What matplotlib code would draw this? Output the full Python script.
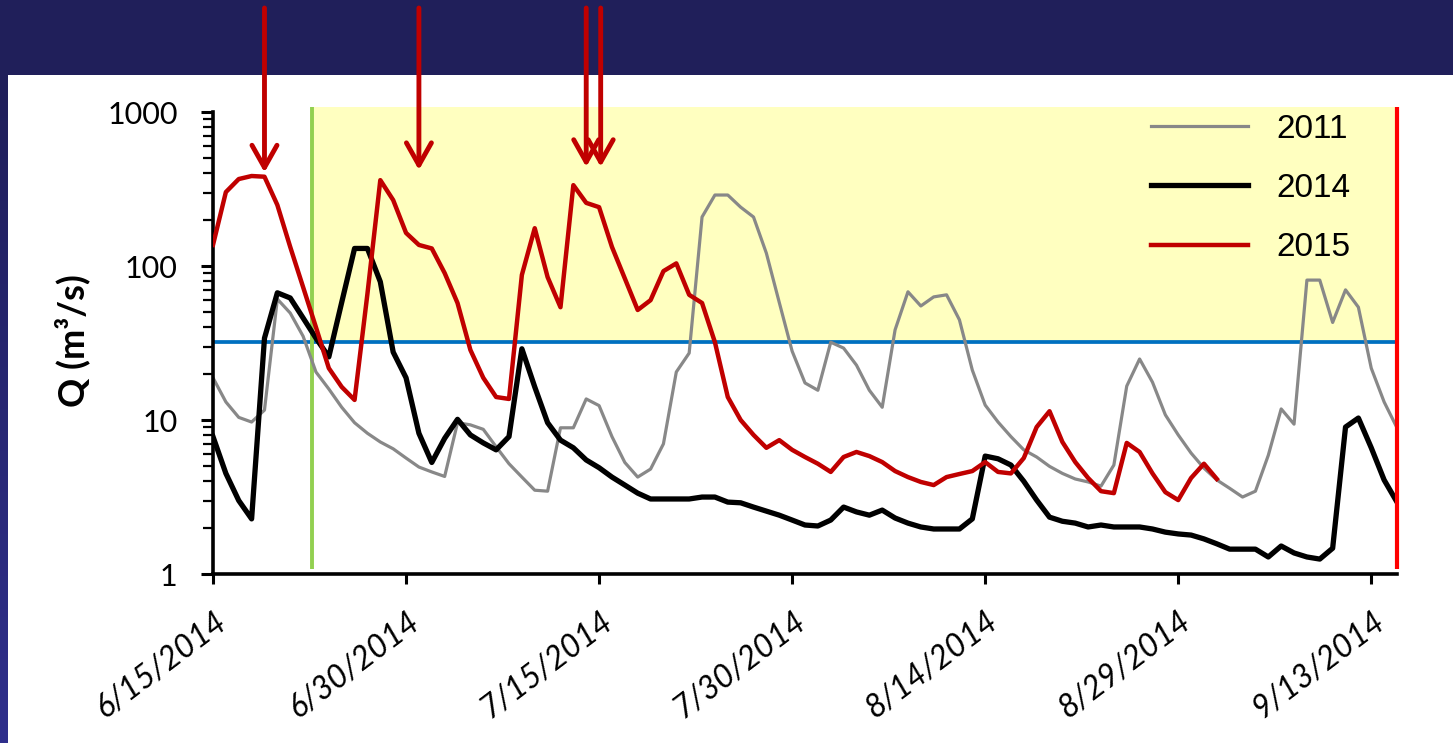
#!/usr/bin/env python3
"""
Daily discharge Q (m3/s), 15 Jun - 15 Sep, for the 2011, 2014 and 2015 seasons
on a log axis, with the high-flow band above the threshold shaded.
"""

import datetime as dt

import matplotlib
matplotlib.use('Agg')
import matplotlib.dates as mdates
import matplotlib.pyplot as plt
import numpy as np
from matplotlib.patches import Rectangle
from matplotlib.ticker import FixedLocator, FuncFormatter, LogLocator, NullFormatter

# ---------------------------------------------------------------- data
START = dt.datetime(2014, 6, 15)
END = dt.datetime(2014, 9, 15)

# daily discharge, one value per day from 6/15
q_2011 = [18.8, 13.1, 10.4, 9.7, 11.6, 61, 49.5, 35, 20.5, 15.9,
          12.1, 9.6, 8.2, 7.2, 6.5, 5.66, 4.95, 4.6, 4.3, 9.6,
          9.3, 8.7, 6.7, 5.2, 4.26, 3.5, 3.45, 8.9, 8.9, 13.7,
          12.4, 7.8, 5.3, 4.26, 4.8, 7.0, 20.5, 27.2, 208, 289,
          289, 241, 208, 121, 58, 28, 17.4, 15.6, 32, 29.3,
          22.7, 15.6, 12.1, 38.5, 68, 55, 63, 65, 44.7, 21.1,
          12.5, 9.7, 7.8, 6.4, 5.75, 5.0, 4.5, 4.14, 3.96, 3.72,
          5.1, 16.6, 24.9, 17.6, 10.8, 8.0, 6.1, 4.87, 4.08, 3.6,
          3.16, 3.45, 5.9, 11.8, 9.4, 81, 81, 43, 70, 54,
          21.7, 13.1, 8.9]

q_2014 = [7.8, 4.5, 3.0, 2.28, 34, 67, 62, 46, 34, 25.7,
          58, 130, 130, 79, 27.6, 18.8, 8.2, 5.3, 7.6, 10.1,
          8.0, 7.1, 6.4, 7.8, 29, 16.4, 9.6, 7.4, 6.6, 5.5,
          4.9, 4.26, 3.78, 3.35, 3.07, 3.07, 3.07, 3.07, 3.16, 3.16,
          2.93, 2.9, 2.72, 2.56, 2.41, 2.24, 2.08, 2.05, 2.24, 2.72,
          2.53, 2.41, 2.6, 2.31, 2.14, 2.02, 1.96, 1.96, 1.96, 2.28,
          5.83, 5.6, 5.1, 4.0, 3.02, 2.34, 2.2, 2.14, 2.02, 2.08,
          2.02, 2.02, 2.02, 1.96, 1.87, 1.82, 1.79, 1.69, 1.57, 1.45,
          1.45, 1.45, 1.29, 1.52, 1.37, 1.29, 1.25, 1.47, 9.0, 10.3,
          6.6, 4.08, 2.93]

q_2015 = [137, 302, 367, 384, 380, 249, 133, 73, 40, 21.7,
          16.4, 13.5, 66, 361, 268, 164, 137, 130, 90, 57.5,
          28.5, 18.8, 14.1, 13.7, 87.5, 176, 84.7, 54, 335, 257,
          241, 133, 83, 51.8, 60, 92.6, 104, 65, 57.5, 32,
          14.1, 10, 8.0, 6.6, 7.4, 6.4, 5.75, 5.2, 4.6, 5.75,
          6.2, 5.83, 5.33, 4.66, 4.26, 3.96, 3.78, 4.26, 4.46, 4.66,
          5.33, 4.6, 4.5, 5.66, 9.0, 11.4, 7.2, 5.33, 4.2, 3.45,
          3.35, 7.1, 6.2, 4.5, 3.4, 3.02, 4.2, 5.2, 4.14]

series_labels = ['2011', '2014', '2015']

tick_dates = [dt.datetime(2014, 6, 15), dt.datetime(2014, 6, 30),
              dt.datetime(2014, 7, 15), dt.datetime(2014, 7, 30),
              dt.datetime(2014, 8, 14), dt.datetime(2014, 8, 29),
              dt.datetime(2014, 9, 13)]
y_ticks = [1, 10, 100, 1000]

threshold_q = 32                           # blue line / bottom of the band
band_top_q = 1080
season_start = dt.datetime(2014, 6, 22, 17)  # green line
arrow_dates = [dt.datetime(2014, 6, 19), dt.datetime(2014, 7, 1),
               dt.datetime(2014, 7, 14), dt.datetime(2014, 7, 15, 3)]
arrow_tips = [405, 420, 440, 440]

# ---------------------------------------------------------------- style
W, H = 1453, 743
NAVY = '#201f5a'
C_2011, C_2014, C_2015 = '#888888', '#000000', '#c00000'
TICK_FONT = 'Lato'
LEGEND_FONT = 'Liberation Sans'


def days(values):
    return [START + dt.timedelta(days=i) for i in range(len(values))]


def main():
    fig = plt.figure(figsize=(W / 100, H / 100), dpi=100, facecolor='white')

    # slide frame: navy band on top, thin blue strip on the left
    fig.patches.append(Rectangle((0, 1 - 75 / H), 1, 75 / H, transform=fig.transFigure,
                                 facecolor=NAVY, edgecolor='none', zorder=-2))
    strip = fig.add_axes([0, 0, 8 / W, 1 - 75 / H], zorder=-2)
    grad = np.linspace(0, 1, 256).reshape(-1, 1)
    cmap = matplotlib.colors.LinearSegmentedColormap.from_list('s', [NAVY, '#2f2f8c'])
    strip.imshow(grad, aspect='auto', cmap=cmap, extent=[0, 1, 0, 1], origin='upper')
    strip.axis('off')

    ax = fig.add_axes([213 / W, 169 / H, (1397 - 213) / W, (574 - 112) / H])
    ax.set_yscale('log')
    ax.set_ylim(1, 1000)
    ax.set_xlim(START, END)

    # high-flow band
    x0 = mdates.date2num(season_start)
    x1 = mdates.date2num(END)
    ax.add_patch(Rectangle((x0, threshold_q), x1 - x0, band_top_q - threshold_q,
                           facecolor='#ffffc0', edgecolor='none', zorder=0.5, clip_on=False))
    ax.hlines(threshold_q, START, END, color='#0070c0', lw=2.7, zorder=1)
    ax.vlines(season_start, 1.08, band_top_q, color='#92d050', lw=2.8, zorder=1, clip_on=False)
    ax.vlines(END, 1.08, band_top_q, color='#ff0000', lw=3.0, zorder=4, clip_on=False)

    # the three seasons
    ax.plot(days(q_2011), q_2011, color=C_2011, lw=2.3, label=series_labels[0], zorder=2)
    ax.plot(days(q_2014), q_2014, color=C_2014, lw=3.8, label=series_labels[1], zorder=3)
    ax.plot(days(q_2015), q_2015, color=C_2015, lw=3.2, label=series_labels[2], zorder=3.5)

    # arrows dropping from the title band
    for d, tip in zip(arrow_dates, arrow_tips):
        ax.annotate('', xy=(d, tip), xycoords='data',
                    xytext=(d, 1 - 8 / H), textcoords=('data', 'figure fraction'),
                    arrowprops=dict(arrowstyle='->,head_length=1.6,head_width=0.9',
                                    mutation_scale=10, lw=3.5, color=C_2015,
                                    shrinkA=0, shrinkB=0),
                    annotation_clip=False)

    # axes look
    for side in ['top', 'right']:
        ax.spines[side].set_visible(False)
    for side in ['left', 'bottom']:
        ax.spines[side].set_linewidth(2.6)
    ax.set_facecolor('white')

    ax.yaxis.set_major_locator(FixedLocator(y_ticks))
    ax.yaxis.set_major_formatter(FuncFormatter(lambda v, p: f'{int(round(v))}'))
    ax.yaxis.set_minor_locator(LogLocator(base=10, subs=np.arange(2, 10)))
    ax.yaxis.set_minor_formatter(NullFormatter())
    ax.tick_params(axis='y', which='major', direction='out', length=8.5, width=2.2,
                   pad=17, labelsize=22)
    ax.tick_params(axis='y', which='minor', direction='out', length=7, width=1.6)

    ax.set_xticks(tick_dates)
    ax.xaxis.set_major_formatter(FuncFormatter(
        lambda v, p: (lambda d: f'{d.month}/{d.day}/{d.year}')(mdates.num2date(v))))
    ax.tick_params(axis='x', which='major', direction='out', length=7, width=2.2,
                   pad=16, labelsize=23)
    for lab in ax.get_xticklabels():
        lab.set_rotation(37)
        lab.set_rotation_mode('anchor')
        lab.set_ha('right')
        lab.set_va('top')
        lab.set_fontstyle('italic')
        lab.set_family(TICK_FONT)
    for lab in ax.get_yticklabels():
        lab.set_family(TICK_FONT)

    ax.set_ylabel('Q (m³/s)', fontsize=26, fontweight='bold', family=TICK_FONT)
    ax.yaxis.set_label_coords(-0.104, 0.506)

    ax.legend(loc='upper right', bbox_to_anchor=(0.962, 1.0), frameon=False,
              prop={'family': LEGEND_FONT, 'size': 24}, handlelength=2.9,
              handletextpad=0.85, labelspacing=0.85, borderaxespad=0, borderpad=0.05)

    fig.savefig('out.png', dpi=100, facecolor='white')


if __name__ == '__main__':
    main()
